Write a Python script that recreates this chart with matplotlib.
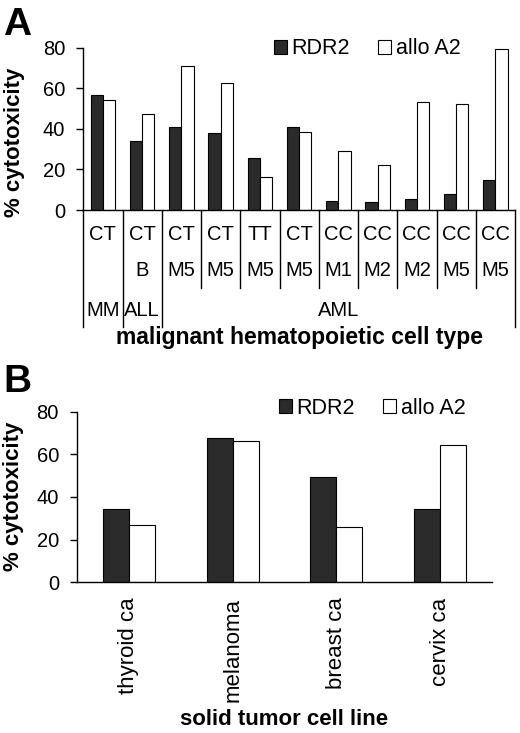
import matplotlib
matplotlib.use("Agg")
import matplotlib.pyplot as plt
import matplotlib.transforms as mtransforms
from matplotlib.patches import Patch
import numpy as np

plt.rcParams['font.family'] = ['Liberation Sans', 'DejaVu Sans']

# panel A: malignant hematopoietic cells
genotype = ["CT", "CT", "CT", "CT", "TT", "CT", "CC", "CC", "CC", "CC", "CC"]
subtype = ["", "B", "M5", "M5", "M5", "M5", "M1", "M2", "M2", "M5", "M5"]
disease = ["MM", "ALL", "AML"]
disease_span = [(0, 0), (1, 1), (2, 10)]
rdr2_a = [56.5, 34.1, 41.0, 37.9, 25.6, 41.0, 4.4, 3.8, 5.4, 7.9, 14.8]
allo_a = [54.0, 47.1, 70.9, 62.6, 16.3, 38.6, 29.2, 22.3, 53.2, 52.4, 79.5]

# panel B: solid tumor cell lines
tumor_lines = ["thyroid ca", "melanoma", "breast ca", "cervix ca"]
rdr2_b = [34.2, 67.6, 49.5, 34.2]
allo_b = [26.9, 66.1, 26.1, 64.4]

dark = '#2b2b2b'
W, H = 520, 733
fig = plt.figure(figsize=(W / 100, H / 100), dpi=100)


def style_axes(ax):
    ax.set_ylim(0, 80)
    ax.set_yticks([0, 20, 40, 60, 80])
    ax.spines['top'].set_visible(False)
    ax.spines['right'].set_visible(False)
    for s in ('left', 'bottom'):
        ax.spines[s].set_linewidth(1.0)
    ax.tick_params(axis='y', direction='out', length=5, width=1.0,
                   labelsize=14.5, pad=8)


def add_legend(ax, cx, cy):
    handles = [Patch(facecolor=dark, edgecolor='black', linewidth=0.8),
               Patch(facecolor='white', edgecolor='black', linewidth=0.8)]
    fig.legend(handles, ['RDR2', 'allo A2'], loc='center',
               bbox_to_anchor=(cx / W, 1 - cy / H), ncol=2, frameon=False,
               fontsize=15.5, handlelength=0.6, handleheight=0.6,
               handletextpad=0.2, columnspacing=1.35, borderpad=0)


# ---------- panel A ----------
axA = fig.add_axes([83.3 / W, 1 - 210 / H, (515 - 83.3) / W, 162.3 / H])
style_axes(axA)
x = np.arange(len(genotype))
wa = 0.31
axA.bar(x - wa / 2, rdr2_a, wa, color=dark, edgecolor='black', linewidth=0.8)
axA.bar(x + wa / 2, allo_a, wa, color='white', edgecolor='black', linewidth=0.8)
axA.set_xlim(-0.5, len(genotype) - 0.5)
axA.set_xticks([])

tr = mtransforms.blended_transform_factory(axA.transData, axA.transAxes)


def fy(py):
    # pixel row -> axes fraction for panel A
    return (210 - py) / 162.3


for i in range(len(genotype)):
    axA.text(i, fy(234), genotype[i], transform=tr, ha='center', va='center',
             fontsize=14.5)
    axA.text(i, fy(271), subtype[i], transform=tr, ha='center', va='center',
             fontsize=14.5)

long_lines = {-0.5, len(genotype) - 0.5}
for lo, hi in disease_span:
    long_lines.add(lo - 0.5)
    long_lines.add(hi + 0.5)
for k in range(len(genotype) + 1):
    xe = k - 0.5
    yend = fy(327) if xe in long_lines else fy(288)
    axA.plot([xe, xe], [0, yend], transform=tr, color='black', lw=1.0,
             clip_on=False)

for name, (lo, hi) in zip(disease, disease_span):
    axA.text((lo + hi) / 2, fy(311), name, transform=tr, ha='center',
             va='center', fontsize=14.5)

axA.text(0.5, fy(337.5), 'malignant hematopoietic cell type', transform=axA.transAxes,
         ha='center', va='center', fontsize=16.5, fontweight='bold')
fig.text(15 / W, 1 - 142.5 / H, '% cytotoxicity', rotation=90, ha='center',
         va='center', fontsize=16, fontweight='bold')
fig.text(3 / W, 1 - 35 / H, 'A', fontsize=28, fontweight='bold')
add_legend(axA, 367, 49)

# ---------- panel B ----------
axB = fig.add_axes([77 / W, 1 - 582.3 / H, (492 - 77) / W, 170.6 / H])
style_axes(axB)
xb = np.arange(len(tumor_lines))
wb = 0.25
axB.bar(xb - wb / 2, rdr2_b, wb, color=dark, edgecolor='black', linewidth=0.8)
axB.bar(xb + wb / 2, allo_b, wb, color='white', edgecolor='black', linewidth=0.8)
axB.set_xlim(-0.5, len(tumor_lines) - 0.5)
axB.set_xticks(xb)
axB.set_xticklabels(tumor_lines, rotation=90, fontsize=16)
axB.tick_params(axis='x', length=0, pad=11)
axB.set_xlabel('solid tumor cell line', fontsize=16, fontweight='bold')
axB.xaxis.set_label_coords(0.5, (582.3 - 709) / 170.6)
fig.text(14 / W, 1 - 496 / H, '% cytotoxicity', rotation=90, ha='center',
         va='center', fontsize=16, fontweight='bold')
fig.text(3 / W, 1 - 392 / H, 'B', fontsize=28, fontweight='bold')
add_legend(axB, 372, 408)

fig.savefig('out.png', dpi=100)
